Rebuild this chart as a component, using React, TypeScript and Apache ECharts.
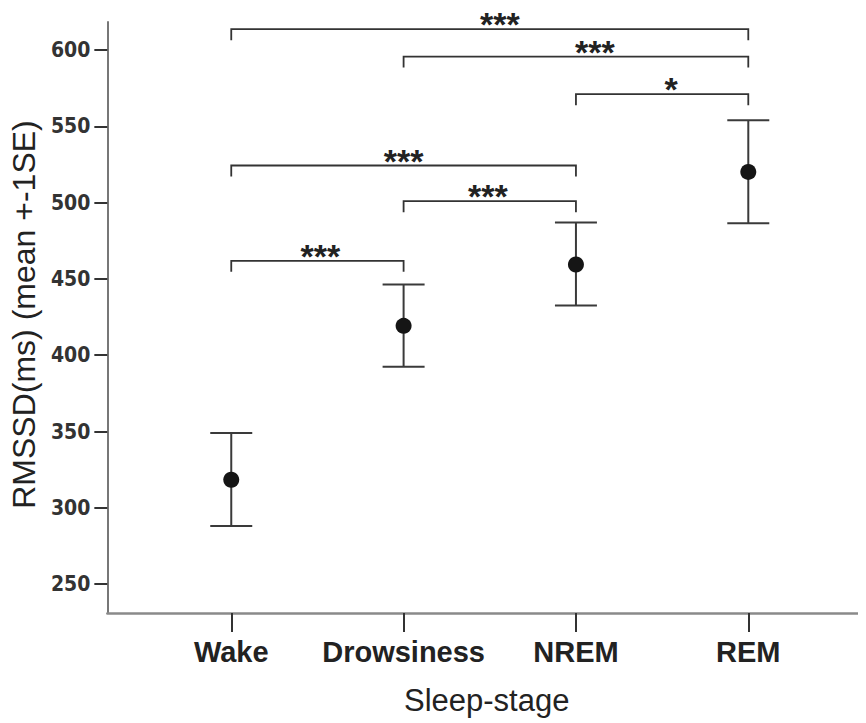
import React, { useEffect, useRef } from "react";
import * as echarts from "echarts";

const stages = ["Wake", "Drowsiness", "NREM", "REM"];
const stagePos = [1, 2, 3, 4];
const means = [318.4, 419.3, 459.5, 520.2];
const seUpper = [349.0, 446.4, 487.0, 554.1];
const seLower = [288.0, 392.5, 432.6, 486.6];
const yTicks = [250, 300, 350, 400, 450, 500, 550, 600];

const bracketFrom = [1, 2, 3, 1, 2, 1];
const bracketTo = [4, 4, 4, 3, 3, 2];
const bracketLevel = [613.8, 595.8, 571.2, 524.4, 501.0, 461.9];
const bracketLabels = ["***", "***", "*", "***", "***", "***"];

// pixel nudges of star labels (style only)
const labelShift = [10, 19, 9, 0, -2, 3];

export default function App() {
  const ref = useRef<HTMLDivElement>(null);
  useEffect(() => {
    if (!ref.current) return;
    const chart = echarts.init(ref.current, null, { renderer: "svg" });
    const errData = stagePos.map((p, i) => [p, seLower[i], seUpper[i]]);
    const dotData = stagePos.map((p, i) => [p, means[i]]);
    const brData = bracketFrom.map((f, i) => [f, bracketTo[i], bracketLevel[i], i]);
    chart.setOption({
      animation: false,
      backgroundColor: "#ffffff",
      grid: { left: 107, right: 0, top: 22, bottom: 110, containLabel: false },
      xAxis: {
        type: "value",
        min: 0.281,
        max: 4.683,
        name: "Sleep-stage",
        nameLocation: "middle",
        nameGap: 72,
        nameTextStyle: { fontFamily: "Liberation Sans, Arial, sans-serif", fontSize: 31, color: "#222" },
        splitLine: { show: false },
        axisLine: { show: true, lineStyle: { color: "#8a8a8a", width: 2.5 } },
        axisTick: { show: true, length: 19, customValues: stagePos, lineStyle: { color: "#333", width: 2 } },
        axisLabel: {
          customValues: stagePos,
          margin: 24,
          formatter: (v: number) => stages[Math.round(v) - 1] ?? "",
          fontFamily: "Liberation Sans, Arial, sans-serif",
          fontWeight: "bold",
          fontSize: 29,
          color: "#222",
        },
      },
      yAxis: {
        type: "value",
        min: 231,
        max: 618.5,
        name: "RMSSD(ms) (mean +-1SE)",
        nameLocation: "middle",
        nameRotate: 90,
        nameGap: 51,
        nameTextStyle: { fontFamily: "Liberation Sans, Arial, sans-serif", fontSize: 32, color: "#222", padding: [0, 0, 0, 6] },
        splitLine: { show: false },
        axisLine: { show: true, lineStyle: { color: "#777", width: 2 } },
        axisTick: { show: true, length: 13, customValues: yTicks, lineStyle: { color: "#333", width: 2 } },
        axisLabel: {
          customValues: yTicks,
          margin: 17,
          fontFamily: "Liberation Sans Narrow, Arial Narrow, DejaVu Sans Condensed, sans-serif",
          fontWeight: "bold",
          fontSize: 21,
          color: "#333",
        },
      },
      series: [
        {
          type: "custom",
          data: errData,
          z: 2,
          renderItem: (params: any, api: any) => {
            const x = api.value(0);
            const top = api.coord([x, api.value(2)]);
            const bot = api.coord([x, api.value(1)]);
            const hw = 21;
            const st = { stroke: "#3a3a3a", lineWidth: 2 };
            return {
              type: "group",
              children: [
                { type: "line", shape: { x1: top[0], y1: top[1], x2: bot[0], y2: bot[1] }, style: st },
                { type: "line", shape: { x1: top[0] - hw, y1: top[1], x2: top[0] + hw, y2: top[1] }, style: st },
                { type: "line", shape: { x1: bot[0] - hw, y1: bot[1], x2: bot[0] + hw, y2: bot[1] }, style: st },
              ],
            };
          },
        },
        {
          type: "scatter",
          data: dotData,
          z: 3,
          symbol: "circle",
          symbolSize: 16,
          itemStyle: { color: "#151515", opacity: 1 },
        },
        {
          type: "custom",
          data: brData,
          z: 2,
          renderItem: (params: any, api: any) => {
            const a = api.coord([api.value(0), api.value(2)]);
            const b = api.coord([api.value(1), api.value(2)]);
            const idx = api.value(3);
            const drop = 11;
            return {
              type: "group",
              children: [
                {
                  type: "polyline",
                  shape: { points: [[a[0], a[1] + drop], [a[0], a[1]], [b[0], b[1]], [b[0], b[1] + drop]] },
                  style: { stroke: "#333", lineWidth: 1.8, fill: "none" },
                },
                {
                  type: "text",
                  x: (a[0] + b[0]) / 2 + labelShift[idx],
                  y: a[1] - 5,
                  style: {
                    text: bracketLabels[idx],
                    fontFamily: "Liberation Sans, Arial, sans-serif",
                    fontWeight: "bold",
                    fontSize: 34,
                    fill: "#222",
                    align: "center",
                    verticalAlign: "middle",
                  },
                },
              ],
            };
          },
        },
      ],
    });
    return () => chart.dispose();
  }, []);
  return <div ref={ref} style={{ width: 866, height: 723, marginLeft: -8, marginTop: -8 }} />;
}
